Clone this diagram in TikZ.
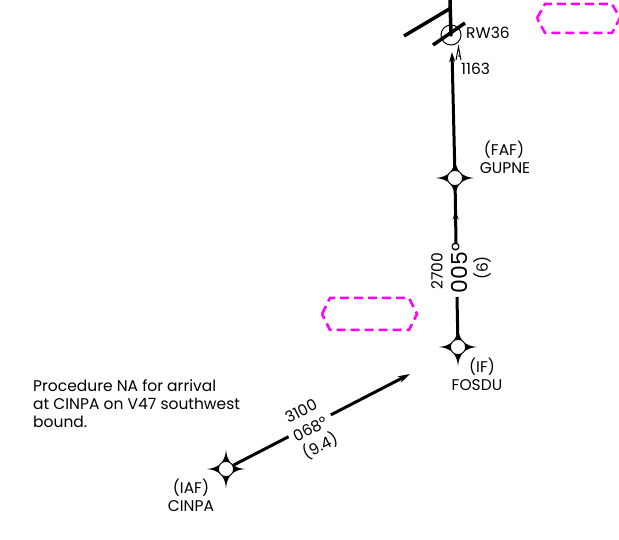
\documentclass[tikz,border=0pt]{standalone}
\usepackage{fontspec}
\setmainfont{Poppins}
\usetikzlibrary{arrows.meta,calc,decorations.markings}
\definecolor{mag}{HTML}{FF00FF}
\begin{document}
\begin{tikzpicture}[x=1pt,y=-1pt,
  lbl/.style={font=\fontsize{15.5}{18}\selectfont, inner sep=0pt},
  big/.style={font=\fontsize{22}{24}\selectfont, inner sep=0pt},
  course/.style={line width=3pt},
  rwy/.style={line width=3.5pt},
  hexa/.style={draw=mag, line width=2.5pt, dash pattern=on 9pt off 5pt},
  upmark/.style={postaction={decorate},decoration={markings,
     mark=at position #1 with {\arrow{Stealth[length=9pt,width=6pt]}}}},
  fix/.pic={
    \fill (-19,0) .. controls (-7,1) and (-1,7) .. (0,19)
          .. controls (1,7) and (7,1) .. (19,0)
          .. controls (7,-1) and (1,-7) .. (0,-19)
          .. controls (-1,-7) and (-7,-1) .. cycle;
    \filldraw[fill=white, line width=0.8pt] (0,0) circle (7.5);
  }]
\useasboundingbox (0,0) rectangle (619,540);

% fixes
\coordinate (RW) at (451,35);
\coordinate (FAF) at (455,178);
\coordinate (IF) at (458,347);
\coordinate (IAF) at (226,469);
\coordinate (rwtip) at (452,52);
\coordinate (g1) at (457,297);
\coordinate (g2) at (456,243);
\coordinate (tipA) at (410,374);

% runway
\coordinate (rwtop) at (450,0);
\coordinate (d1a) at (404,36);
\coordinate (d1b) at (451,8);
\coordinate (d2a) at (433,45);
\coordinate (d2b) at (465,23);
\draw[rwy] (rwtop) -- (RW);
\draw[rwy] (d1a) -- (d1b);
\draw[line width=1pt] (RW) circle (10);
\fill (RW) circle (1.8);
\draw[rwy] (d2a) -- (d2b);
\coordinate (c1) at (456,60);
\coordinate (c2) at (458.5,47);
\coordinate (c3) at (461,60);
\draw[line width=1pt] (c1) -- (c2) -- (c3);
\fill (459,56) circle (1);

% course lines
\draw[course, -{Stealth[length=10pt,width=6pt]}] (FAF) -- (rwtip);
\draw[course, upmark=0.5] (g2) -- (FAF);
\draw[course] (IF) -- (g1);

% IAF leg
\coordinate (ga) at ($(IAF)!0.34!(tipA)$);
\coordinate (gb) at ($(IAF)!0.57!(tipA)$);
\draw[course] (IAF) -- (ga);
\draw[course, -{Stealth[length=12pt,width=7pt]}] (gb) -- (tipA);

% fix symbols
\pic at (FAF) {fix};
\pic at (IF) {fix};
\pic at (IAF) {fix};

% hexagons
\draw[hexa] (322,314) -- (330,298) -- (409,298) -- (417,314) -- (409,330) -- (330,330) -- cycle;
\draw[hexa] (537,18) -- (545,4) -- (612,4) -- (620,18) -- (612,33) -- (545,33) -- cycle;

% labels
\node[lbl, anchor=west] (rwl) at (466,33) {RW36};
\node[lbl, anchor=west] (elev) at (461,69) {1163};
\node[lbl] (fafa) at (504,150) {(FAF)};
\node[lbl] (fafb) at (505,168) {GUPNE};
\node[lbl] (ifa) at (482,367) {(IF)};
\node[lbl] (ifb) at (477,385) {FOSDU};
\node[lbl] (iafa) at (191,488) {(IAF)};
\node[lbl] (iafb) at (191,506) {CINPA};

\node[lbl, rotate=90] (alt1) at (437,271) {2700};
\node[big, rotate=90] (crs1) at (459,268) {005°};
\node[lbl, rotate=90] (dst1) at (482,268) {(6)};

\node[lbl, rotate=27] (alt2) at (301,411) {3100};
\node[lbl, rotate=27] (crs2) at (310,429) {068°};
\node[lbl, rotate=27] (dst2) at (320,446) {(9.4)};

\node[lbl, anchor=base west] (note1) at (33,391) {Procedure NA for arrival};
\node[lbl, anchor=base west] (note2) at (33,409) {at CINPA on V47 southwest};
\node[lbl, anchor=base west] (note3) at (33,427) {bound.};
\end{tikzpicture}
\end{document}
